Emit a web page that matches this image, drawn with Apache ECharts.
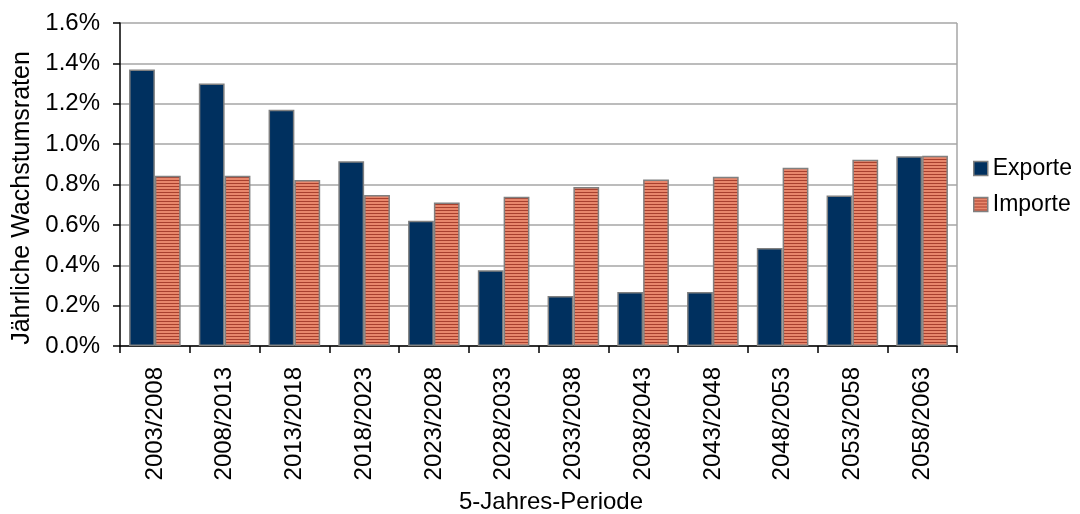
<!DOCTYPE html>
<html>
<head>
<meta charset="utf-8">
<script src="https://cdn.jsdelivr.net/npm/echarts@6/dist/echarts.min.js"></script>
<style>
  html, body { margin: 0; padding: 0; background: #ffffff; }
  #chart { width: 1080px; height: 514px; }
</style>
</head>
<body>
<div id="chart"></div>
<script>
// 5-year periods
const categories = ['2003/2008', '2008/2013', '2013/2018', '2018/2023', '2023/2028', '2028/2033',
  '2033/2038', '2038/2043', '2043/2048', '2048/2053', '2053/2058', '2058/2063'];
// Annual growth rates in percent
const exporte = [1.37, 1.30, 1.17, 0.915, 0.62, 0.375, 0.248, 0.267, 0.268, 0.485, 0.745, 0.94];
const importe = [0.843, 0.843, 0.822, 0.748, 0.711, 0.739, 0.787, 0.825, 0.838, 0.883, 0.922, 0.942];
const yTicks = [0, 0.2, 0.4, 0.6, 0.8, 1.0, 1.2, 1.4, 1.6];

const FONT = '"Liberation Sans", Arial, sans-serif';

// Horizontal stripe fill for the import bars
function stripePattern() {
  const c = document.createElement('canvas');
  c.width = 4; c.height = 3;
  const g = c.getContext('2d');
  g.fillStyle = '#e8876c';
  g.fillRect(0, 0, 4, 3);
  g.fillStyle = '#a8402e';
  g.fillRect(0, 0, 4, 1);
  return c;
}
const stripes = { image: stripePattern(), repeat: 'repeat' };

const chart = echarts.init(document.getElementById('chart'), null, { renderer: 'canvas' });

chart.setOption({
  animation: false,
  backgroundColor: '#ffffff',
  textStyle: { fontFamily: FONT },
  grid: { left: 120, right: 123, top: 23, bottom: 168, containLabel: false },
  legend: {
    orient: 'vertical',
    left: 968,
    top: 152,
    itemWidth: 14,
    itemHeight: 14,
    itemGap: 13,
    icon: 'rect',
    textStyle: { fontFamily: FONT, fontSize: 23, color: '#000000', padding: [0, 0, 0, 0] },
    data: [
      { name: 'Exporte', itemStyle: { color: '#00305f', borderColor: '#808080', borderWidth: 1.5 } },
      { name: 'Importe', itemStyle: { color: stripes, borderColor: '#808080', borderWidth: 1.5 } }
    ]
  },
  xAxis: {
    type: 'category',
    data: categories,
    axisLine: { lineStyle: { color: '#000000', width: 1.5 } },
    axisTick: { show: true, alignWithLabel: false, length: 7, lineStyle: { color: '#000000', width: 1.5 } },
    axisLabel: {
      rotate: 90,
      fontFamily: FONT,
      fontSize: 24,
      color: '#000000',
      margin: 21
    },
    splitLine: { show: false }
  },
  yAxis: {
    type: 'value',
    min: 0,
    max: 1.6,
    interval: 0.2,
    axisLine: { show: true, lineStyle: { color: '#000000', width: 1.5 } },
    axisTick: { show: true, inside: false, length: 7, lineStyle: { color: '#000000', width: 1.5 } },
    axisLabel: {
      fontFamily: FONT,
      fontSize: 24,
      color: '#000000',
      margin: 20,
      formatter: v => {
        const t = yTicks.find(x => Math.abs(x - v) < 1e-9);
        return (t !== undefined ? t : v).toFixed(1) + '%';
      }
    },
    splitLine: { show: true, lineStyle: { color: '#a6a6a6', width: 1.5 } }
  },
  series: [
    {
      name: 'Exporte',
      type: 'bar',
      data: exporte,
      barGap: '0%',
      barCategoryGap: '26%',
      itemStyle: { color: '#00305f', borderColor: '#808080', borderWidth: 1.5 }
    },
    {
      name: 'Importe',
      type: 'bar',
      data: importe,
      itemStyle: { color: stripes, borderColor: '#808080', borderWidth: 1.5 }
    }
  ],
  graphic: [
    {
      // right-hand frame of the plot area
      type: 'line',
      shape: { x1: 957, y1: 23, x2: 957, y2: 346 },
      style: { stroke: '#a6a6a6', lineWidth: 1.5 },
      silent: true
    },
    {
      // x axis title
      type: 'text',
      x: 551,
      y: 502,
      style: {
        text: '5-Jahres-Periode',
        font: '24px ' + FONT,
        fill: '#000000',
        align: 'center',
        verticalAlign: 'middle'
      },
      silent: true
    },
    {
      // y axis title
      type: 'text',
      x: 22,
      y: 198,
      rotation: Math.PI / 2,
      style: {
        text: 'Jährliche Wachstumsraten',
        font: '25px ' + FONT,
        fill: '#000000',
        align: 'center',
        verticalAlign: 'middle'
      },
      silent: true
    }
  ]
});
</script>
</body>
</html>
